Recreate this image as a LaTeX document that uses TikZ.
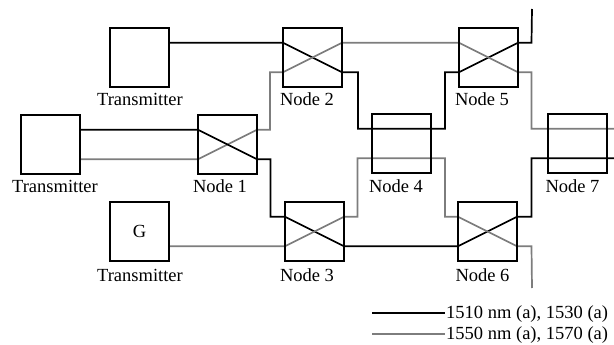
\documentclass[tikz,border=0pt]{standalone}
\usepackage{fontspec}
\setmainfont{Liberation Serif}
\usetikzlibrary{calc}
\definecolor{grayline}{RGB}{125,125,125}
\tikzset{
  box/.style={draw=black, line width=1.7pt, minimum width=59pt, minimum height=59pt, inner sep=0pt, outer sep=0pt},
  lbl/.style={anchor=base, inner sep=0pt, font=\fontsize{18.5}{22}\selectfont},
  blk/.style={draw=black, line width=1.7pt},
  gry/.style={draw=grayline, line width=1.7pt},
}
\begin{document}
\begin{tikzpicture}[x=1pt,y=-1pt]
\useasboundingbox (0,0) rectangle (614,345);
% boxes (coordinates only first)
\node[box,draw=none] (TxA) at (139.5,57.5) {};
\node[box,draw=none] (TxB) at (50.5,144.5) {};
\node[box,draw=none] (TxC) at (139.5,231.5) {};
\node[box,draw=none] (N1) at (227.5,144.5) {};
\node[box,draw=none] (N2) at (312.5,57.5) {};
\node[box,draw=none] (N3) at (314.5,231.5) {};
\node[box,draw=none] (N4) at (401.5,143.5) {};
\node[box,draw=none] (N5) at (488.5,57.5) {};
\node[box,draw=none] (N6) at (487.5,231.5) {};
\node[box,draw=none] (N7) at (577.5,143.5) {};
\foreach \n in {TxA,TxB,TxC,N1,N2,N3,N4,N5,N6,N7}{
  \coordinate (\n-wu) at ([yshift=14.75pt]\n.west);
  \coordinate (\n-wl) at ([yshift=-14.75pt]\n.west);
  \coordinate (\n-eu) at ([yshift=14.75pt]\n.east);
  \coordinate (\n-el) at ([yshift=-14.75pt]\n.east);
}
\coordinate (endA) at (532,9);
\coordinate (endC) at (532,288);
% connectors
\draw[blk] (TxA-eu) -- (N2-wu) -- (N2-el) -- ++(16,0) |- (N4-wu) -- (N4-eu) -- ++(14,0) |- (N5-wl) -- (N5-eu) -- ++(13.5,0) -- (endA);
\draw[gry] (TxB-el) -- (N1-wl) -- (N1-eu) -- ++(13,0) |- (N2-wl) -- (N2-eu) -- (N5-wu) -- (N5-el) -- ++(13.5,0) |- (N7-wu) -- (N7-eu) -- ++(8,0);
\draw[blk] (TxB-eu) -- (N1-wu) -- (N1-el) -- ++(13.5,0) |- (N3-wu) -- (N3-el) -- (N6-wl) -- (N6-eu) -- ++(14.5,0) |- (N7-wl) -- (N7-el) -- ++(8,0);
\draw[gry] (TxC-el) -- (N3-wl) -- (N3-eu) -- ++(13.5,0) |- (N4-wl) -- (N4-el) -- ++(14,0) |- (N6-wu) -- (N6-el) -- ++(14.5,0) -- (endC);
% visible boxes on top
\foreach \n in {TxA,TxB,TxC,N1,N2,N3,N4,N5,N6,N7}{
  \draw[line width=1.7pt] (\n.north west) rectangle (\n.south east);
}
\node[font=\fontsize{18.5}{22}\selectfont, inner sep=0pt] (g) at (TxC) {G};
% labels
\node[lbl] (lTxA) at (140,106) {Transmitter};
\node[lbl] (lTxB) at (55,193) {Transmitter};
\node[lbl] (lTxC) at (140,281) {Transmitter};
\node[lbl] (lN1) at (220,193) {Node 1};
\node[lbl] (lN2) at (307,106) {Node 2};
\node[lbl] (lN3) at (307,281) {Node 3};
\node[lbl] (lN4) at (396,193) {Node 4};
\node[lbl] (lN5) at (482,106) {Node 5};
\node[lbl] (lN6) at (482.5,281) {Node 6};
\node[lbl] (lN7) at (572.5,193) {Node 7};
% legend
\coordinate (k1a) at (372,313);
\coordinate (k1b) at (445,313);
\coordinate (k2a) at (372,334);
\coordinate (k2b) at (445,334);
\draw[blk] (k1a) -- (k1b);
\draw[gry] (k2a) -- (k2b);
\node[lbl,anchor=base west] (t1) at (446,318) {1510 nm (a), 1530 (a)};
\node[lbl,anchor=base west] (t2) at (446,339) {1550 nm (a), 1570 (a)};
\end{tikzpicture}
\end{document}
